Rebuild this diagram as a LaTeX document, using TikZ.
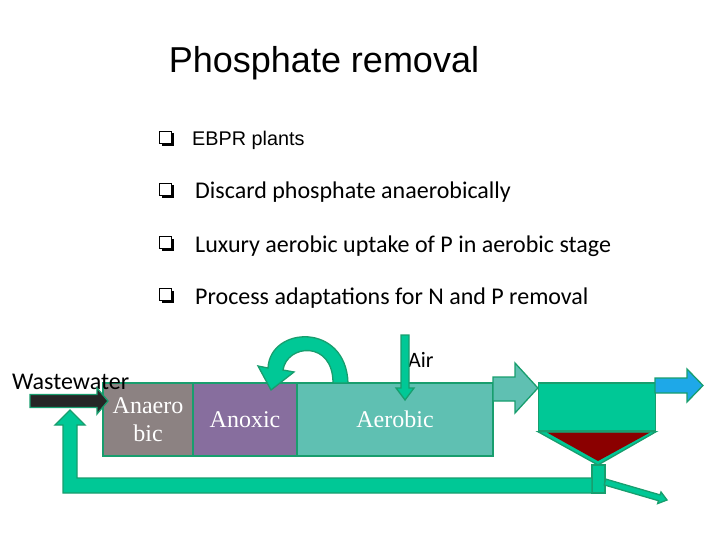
\documentclass[tikz,border=0pt]{standalone}
\usepackage{fontspec}
\setmainfont{Liberation Serif}
\newfontfamily\arialfont{Liberation Sans}
\newfontfamily\calibrifont{Carlito}
\usetikzlibrary{calc}
\definecolor{pipegreen}{HTML}{00C896}
\definecolor{edgegreen}{HTML}{189E6E}
\definecolor{anaerogray}{HTML}{8C8282}
\definecolor{anoxpurple}{HTML}{876E9E}
\definecolor{aerotea}{HTML}{5FC0B2}
\definecolor{sludgered}{HTML}{8B0000}
\definecolor{effblue}{HTML}{1EA8E8}
\newcommand{\qbox}[1]{%
  \fill[black] ($(#1)+(-4.5,-4.5)$) rectangle ($(#1)+(8,8)$);
  \draw[black,fill=white,line width=1.2pt] ($(#1)+(-6.5,-6.5)$) rectangle ($(#1)+(5.5,5.5)$);}

\begin{document}
\begin{tikzpicture}[x=1pt,y=-1pt,
    tank/.style={draw=edgegreen,line width=1.5pt,text=white,inner sep=0pt,
      font=\fontsize{24}{25}\selectfont},
    pipe/.style={draw=edgegreen,line width=1.3pt,fill=pipegreen,line join=miter},
    bullet/.style={anchor=base west,inner sep=0pt,font=\calibrifont\fontsize{24}{26}\selectfont}]
  \useasboundingbox (0,0) rectangle (720,540);
  % title and bullets
  \node[font=\arialfont\fontsize{36}{38}\selectfont] (title) at (324,63) {Phosphate removal};
  \qbox{166,138}
  \node[bullet,font=\arialfont\fontsize{19.8}{22}\selectfont] (b1) at (192,146) {EBPR plants};
  \foreach \yy/\txt [count=\i from 2] in {192/Discard phosphate anaerobically,
      245/Luxury aerobic uptake of P in aerobic stage,
      297/Process adaptations for N and P removal}{
    \qbox{166,\yy-2}
    \node[bullet] (b\i) at (195,\yy+7) {\txt};
  }
  % basins
  \node[tank,fill=anaerogray,minimum width=90,minimum height=73,align=center,
    font=\fontsize{24}{28}\selectfont] (anaero) at (148,419.5) {Anaero\\bic};
  \node[tank,fill=anoxpurple,minimum width=104,minimum height=73] (anox) at (245,419.5) {Anoxic};
  \node[tank,fill=aerotea,minimum width=196,minimum height=73] (aero) at (395,419.5) {Aerobic};
  % clarifier
  \node[pipe,minimum width=117,minimum height=48,inner sep=0pt] (clar) at (597,407) {};
  \coordinate (cone) at (598,465);
  \draw[pipe] (clar.south west) -- (cone) -- (clar.south east) -- cycle;
  \fill[sludgered] (547,432.5) -- (598,461) -- (650,432.5) -- cycle;
  % wastewater in
  \node[font=\calibrifont\fontsize{24}{26}\selectfont,anchor=base west,inner sep=0pt] (ww) at (12,389) {Wastewater};
  \coordinate (win) at (30,401);
  \coordinate (wtip) at (108,401);
  \draw[line width=1.3pt,draw=edgegreen,fill=black!85] ($(win)+(0,-6.5)$) -- (97,394.5) -- (97,388)
    -- (wtip) -- (97,414) -- (97,407.5) -- ($(win)+(0,6.5)$) -- cycle;
  % sludge return
  \draw[pipe] (592,465) rectangle (605,493);
  \draw[pipe] (63,493) -- (592,493) -- (592,478) -- (77,478) -- (77,425) -- (85,425)
    -- (70,410) -- (55,425) -- (63,425) -- cycle;
  \draw[pipe] (604.2,484.9) -- (658.5,500.7) -- (657.6,503.6) -- (667,500) -- (661,492)
    -- (660.1,494.9) -- (605.8,479.1) -- cycle;
  % aerobic to clarifier
  \draw[pipe,fill=aerotea] (493,377) -- (515,377) -- (515,363) -- (clar.north west |- 0,388)
    -- (515,413) -- (515,401) -- (493,401) -- cycle;
  % effluent
  \draw[pipe,fill=effblue] (655,378) -- (687,378) -- (687,369) -- (703,385.5) -- (687,402)
    -- (687,393) -- (655,393) -- cycle;
  % air
  \node[font=\calibrifont\fontsize{22}{24}\selectfont,anchor=base west,inner sep=0pt] (air) at (408,367) {Air};
  \draw[pipe] (401,335) -- (409,335) -- (409,388) -- (414,388) -- (405,400) -- (396,388)
    -- (401,388) -- cycle;
  % internal recycle
  \draw[pipe] (348,383) .. controls (346,322) and (270,326) .. (268,368) -- (258,366)
    -- (271,390) -- (294,372) -- (283,370) .. controls (287,344) and (333,340) .. (333,383) -- cycle;
\end{tikzpicture}
\end{document}
